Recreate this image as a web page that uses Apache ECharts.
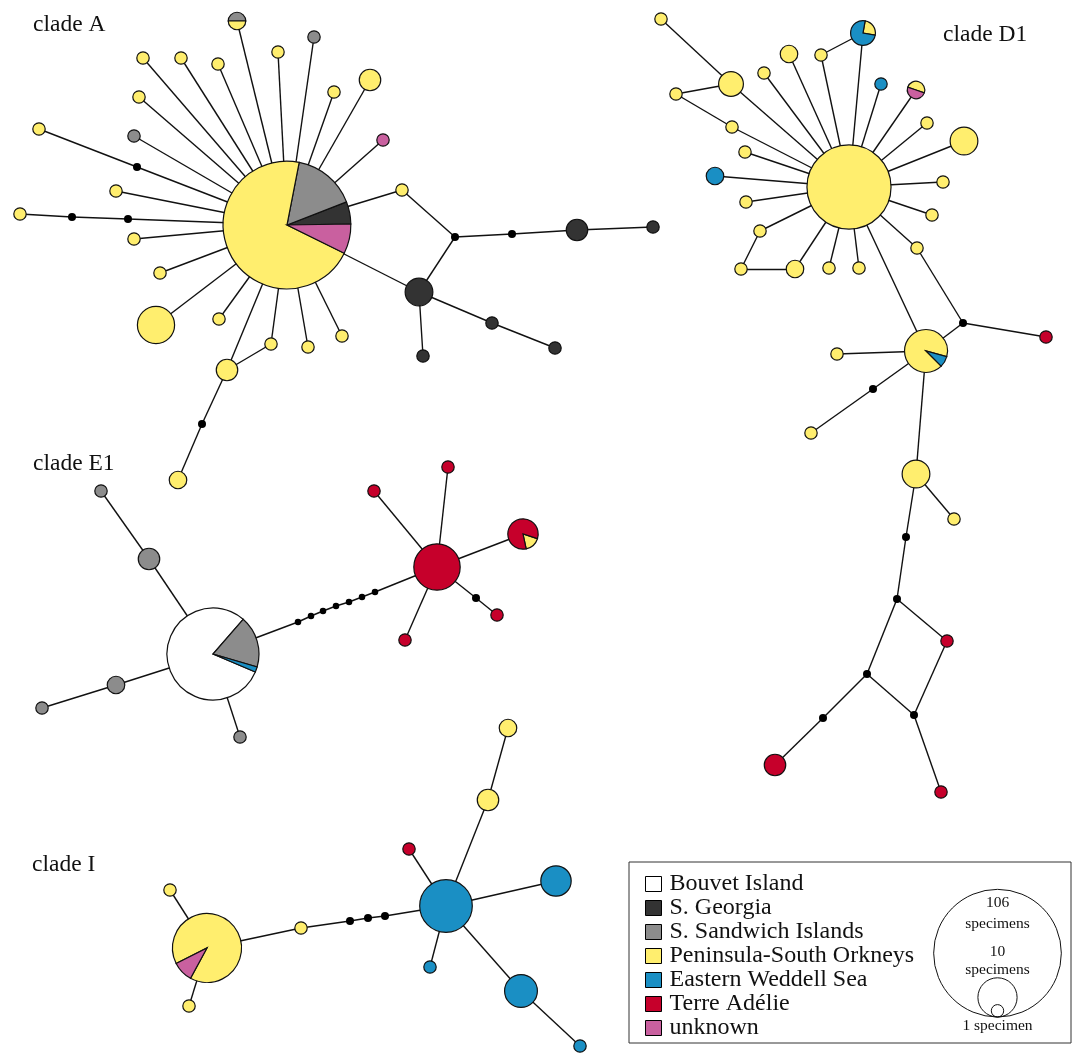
<!DOCTYPE html>
<html>
<head>
<meta charset="utf-8">
<script src="https://cdn.jsdelivr.net/npm/echarts@6.0.0/dist/echarts.min.js"></script>
<style>
html,body{margin:0;padding:0;background:#fff;}
#chart{width:1072px;height:1059px;}
</style>
</head>
<body>
<div id="chart"></div>
<script>
// ---------------- DATA ----------------
const populations = ['Bouvet Island','S. Georgia','S. Sandwich Islands','Peninsula-South Orkneys','Eastern Weddell Sea','Terre Adélie','unknown'];
const popColors = ['#ffffff','#333333','#8c8c8c','#ffee6e','#1a8fc4','#c6002b','#c9609f'];

// haplotype: [id, x, y, [[populationIndex, specimens], ...] (clockwise), start angle (deg)]
const haplotypesA = [
  ['A0',287,225,[[2,17],[1,6],[6,8],[3,75]],79],
  ['A1',237,21,[[2,1],[3,1]],180],
  ['A2',314,37,[[2,1]]],
  ['A3',278,52,[[3,1]]],
  ['A4',370,80,[[3,3]]],
  ['A5',334,92,[[3,1]]],
  ['A6',383,140,[[6,1]]],
  ['A7',218,64,[[3,1]]],
  ['A8',181,58,[[3,1]]],
  ['A9',143,58,[[3,1]]],
  ['A10',139,97,[[3,1]]],
  ['A11',134,136,[[2,1]]],
  ['A12',39,129,[[3,1]]],
  ['A13',116,191,[[3,1]]],
  ['A14',20,214,[[3,1]]],
  ['A15',134,239,[[3,1]]],
  ['A16',160,273,[[3,1]]],
  ['A17',156,325,[[3,9]]],
  ['A18',219,319,[[3,1]]],
  ['A19',271,344,[[3,1]]],
  ['A20',308,347,[[3,1]]],
  ['A21',342,336,[[3,1]]],
  ['A22',227,370,[[3,3]]],
  ['A23',178,480,[[3,2]]],
  ['A24',402,190,[[3,1]]],
  ['A25',577,230,[[1,3]]],
  ['A26',653,227,[[1,1]]],
  ['A27',419,292,[[1,5]]],
  ['A28',492,323,[[1,1]]],
  ['A29',555,348,[[1,1]]],
  ['A30',423,356,[[1,1]]]
];
const haplotypesD1 = [
  ['D0',849,187,[[3,46]]],
  ['D1',661,19,[[3,1]]],
  ['D2',731,84,[[3,4]]],
  ['D3',676,94,[[3,1]]],
  ['D4',732,127,[[3,1]]],
  ['D5',789,54,[[3,2]]],
  ['D6',764,73,[[3,1]]],
  ['D7',821,55,[[3,1]]],
  ['D8',863,33,[[3,1],[4,3]],80],
  ['D9',881,84,[[4,1]]],
  ['D10',916,90,[[3,1],[6,1]],161],
  ['D11',927,123,[[3,1]]],
  ['D12',964,141,[[3,5]]],
  ['D13',943,182,[[3,1]]],
  ['D14',932,215,[[3,1]]],
  ['D15',917,248,[[3,1]]],
  ['D16',745,152,[[3,1]]],
  ['D17',715,176,[[4,2]]],
  ['D18',746,202,[[3,1]]],
  ['D19',760,231,[[3,1]]],
  ['D20',741,269,[[3,1]]],
  ['D21',795,269,[[3,2]]],
  ['D22',829,268,[[3,1]]],
  ['D23',859,268,[[3,1]]],
  ['D24',926,351,[[4,1],[3,11]],-15],
  ['D25',1046,337,[[5,1]]],
  ['D26',837,354,[[3,1]]],
  ['D27',811,433,[[3,1]]],
  ['D28',916,474,[[3,5]]],
  ['D29',954,519,[[3,1]]],
  ['D30',947,641,[[5,1]]],
  ['D31',775,765,[[5,3]]],
  ['D32',941,792,[[5,1]]]
];
const haplotypesE1 = [
  ['E0',213,654,[[2,10],[4,1],[0,44]],49],
  ['E1',101,491,[[2,1]]],
  ['E2',149,559,[[2,3]]],
  ['E3',116,685,[[2,2]]],
  ['E4',42,708,[[2,1]]],
  ['E5',240,737,[[2,1]]],
  ['E6',437,567,[[5,14]]],
  ['E7',374,491,[[5,1]]],
  ['E8',448,467,[[5,1]]],
  ['E9',523,534,[[3,1],[5,5]],-18],
  ['E10',497,615,[[5,1]]],
  ['E11',405,640,[[5,1]]]
];
const haplotypesI = [
  ['I0',207,948,[[6,3],[3,28]],241.5],
  ['I1',170,890,[[3,1]]],
  ['I2',189,1006,[[3,1]]],
  ['I3',301,928,[[3,1]]],
  ['I4',446,906,[[4,18]]],
  ['I5',409,849,[[5,1]]],
  ['I6',488,800,[[3,3]]],
  ['I7',508,728,[[3,2]]],
  ['I8',556,881,[[4,6]]],
  ['I9',430,967,[[4,1]]],
  ['I10',521,991,[[4,7]]],
  ['I11',580,1046,[[4,1]]]
];
// median vectors (missing haplotypes): [id, x, y]
const medianVectors = [
  ['mA1',137,167],['mA2',72,217],['mA3',128,219],['mA4',202,424],['mA5',455,237],['mA6',512,234],
  ['mD1',963,323],['mD2',873,389],['mD3',906,537],['mD4',897,599],['mD5',867,674],['mD6',914,715],['mD7',823,718],
  ['mE1',298,622],['mE2',311,616],['mE3',323,611],['mE4',336,606],['mE5',349,602],['mE6',362,597],['mE7',375,592],['mE8',476,598],
  ['mI1',350,921],['mI2',368,918],['mI3',385,916]
];
const linksA = [
  ['A0','A1'],['A0','A2'],['A0','A3'],['A0','A4'],['A0','A5'],['A0','A6'],['A0','A7'],['A0','A8'],['A0','A9'],['A0','A10'],['A0','A11'],
  ['A0','mA1'],['mA1','A12'],['A0','A13'],['A0','mA3'],['mA3','mA2'],['mA2','A14'],['A0','A15'],['A0','A16'],['A0','A17'],
  ['A0','A18'],['A0','A19'],['A0','A20'],['A0','A21'],['A0','A22'],['A22','A19'],['A22','mA4'],['mA4','A23'],
  ['A0','A24'],['A24','mA5'],['mA5','mA6'],['mA6','A25'],['A25','A26'],['mA5','A27'],['A0','A27'],['A27','A28'],['A28','A29'],['A27','A30']
];
const linksD1 = [
  ['D1','D2'],['D2','D0'],['D2','D3'],['D3','D4'],['D4','D0'],['D5','D0'],['D6','D0'],['D7','D0'],['D7','D8'],['D8','D0'],
  ['D9','D0'],['D10','D0'],['D11','D0'],['D12','D0'],['D13','D0'],['D14','D0'],['D15','D0'],['D16','D0'],['D17','D0'],['D18','D0'],
  ['D19','D0'],['D19','D20'],['D20','D21'],['D21','D0'],['D22','D0'],['D23','D0'],['D0','D24'],['D15','mD1'],['mD1','D24'],['mD1','D25'],
  ['D24','D26'],['D24','mD2'],['mD2','D27'],['D24','D28'],['D28','D29'],['D28','mD3'],['mD3','mD4'],['mD4','D30'],['mD4','mD5'],
  ['mD5','mD6'],['D30','mD6'],['mD6','D32'],['mD5','mD7'],['mD7','D31']
];
const linksE1 = [
  ['E1','E2'],['E2','E0'],['E0','E3'],['E3','E4'],['E0','E5'],['E0','mE1'],['mE1','mE2'],['mE2','mE3'],['mE3','mE4'],['mE4','mE5'],
  ['mE5','mE6'],['mE6','mE7'],['mE7','E6'],['E6','E7'],['E6','E8'],['E6','E9'],['E6','mE8'],['mE8','E10'],['E6','E11']
];
const linksI = [
  ['I0','I1'],['I0','I2'],['I0','I3'],['I3','mI1'],['mI1','mI2'],['mI2','mI3'],['mI3','I4'],['I4','I5'],['I4','I6'],['I6','I7'],
  ['I4','I8'],['I4','I9'],['I4','I10'],['I10','I11']
];
const cladeNames = ['clade A','clade D1','clade E1','clade I'];
const sizeLegendCounts = [106,10,1];
const sizeLegendTexts = [['106','specimens'],['10','specimens'],['1 specimen']];

// ---------------- BUILD ----------------
const FONT = 'Liberation Serif, Times New Roman, serif';
const K = 6.2; // radius per sqrt(specimen), in axis units
const haplotypes = haplotypesA.concat(haplotypesD1, haplotypesE1, haplotypesI);
const allLinks = linksA.concat(linksD1, linksE1, linksI);

const sectorData = populations.map(() => []);
haplotypes.forEach(h => {
  const id = h[0], x = h[1], y = h[2], comp = h[3], start = (h[4] === undefined ? 90 : h[4]);
  const total = comp.reduce((s, c) => s + c[1], 0);
  let a = start;
  comp.forEach(c => {
    const span = c[1] / total * 360;
    sectorData[c[0]].push({ name: id, value: [x, y, total, a, a - span, comp.length === 1 ? 1 : 0] });
    a -= span;
  });
});

function renderSector(params, api) {
  const c = api.coord([api.value(0), api.value(1)]);
  const r = api.size([K * Math.sqrt(api.value(2)), 0])[0];
  const style = { fill: api.visual('color'), stroke: '#111', lineWidth: 1.2 };
  if (api.value(5) === 1) {
    return { type: 'circle', shape: { cx: c[0], cy: c[1], r: r }, style: style };
  }
  const a0 = -api.value(3) * Math.PI / 180;
  const a1 = -api.value(4) * Math.PI / 180;
  return { type: 'sector', shape: { cx: c[0], cy: c[1], r: r, r0: 0, startAngle: a0, endAngle: a1, clockwise: true }, style: style };
}

const graphNodes = haplotypes.map(h => ({ name: h[0], value: [h[1], h[2]], symbolSize: 0 }))
  .concat(medianVectors.map(m => ({ name: m[0], value: [m[1], m[2]], symbolSize: /^mE[1-7]$/.test(m[0]) ? 6.5 : 8 })));

const series = [{
  type: 'graph',
  coordinateSystem: 'cartesian2d',
  xAxisIndex: 0, yAxisIndex: 0,
  z: 1,
  silent: true,
  symbol: 'circle',
  itemStyle: { color: '#000' },
  lineStyle: { color: '#111', width: 1.4, opacity: 1, curveness: 0 },
  emphasis: { disabled: true },
  label: { show: false },
  data: graphNodes,
  links: allLinks.map(l => ({ source: l[0], target: l[1] }))
}].concat(populations.map((p, i) => ({
  type: 'custom',
  name: p,
  coordinateSystem: 'cartesian2d',
  z: 2,
  silent: true,
  clip: false,
  itemStyle: { color: popColors[i] },
  renderItem: renderSector,
  encode: { x: 0, y: 1 },
  data: sectorData[i]
})));

// size legend graphics
const sizeCx = 997.5, sizeBottom = 1017;
const sizeGraphics = sizeLegendCounts.map(n => ({
  type: 'circle', silent: true,
  shape: { cx: sizeCx, cy: sizeBottom - K * Math.sqrt(n), r: K * Math.sqrt(n) },
  style: { fill: 'none', stroke: '#111', lineWidth: 1 }
}));
const sizeTextY = [[903, 924], [952, 970], [1026]];
sizeLegendTexts.forEach((lines, i) => {
  lines.forEach((t, j) => {
    sizeGraphics.push({
      type: 'text', silent: true,
      style: { text: t, x: sizeCx, y: sizeTextY[i][j], align: 'center', verticalAlign: 'middle', font: '15.5px ' + FONT, fill: '#111' }
    });
  });
});
const cladePos = [[33, 24.6], [943, 34.6], [33, 463.6], [32, 864.6]];
const cladeGraphics = cladeNames.map((t, i) => ({
  type: 'text', silent: true,
  style: { text: t, x: cladePos[i][0], y: cladePos[i][1], align: 'left', verticalAlign: 'middle', font: '23.5px ' + FONT, fill: '#111' }
}));

const option = {
  animation: false,
  backgroundColor: '#fff',
  grid: { left: 0, right: 0, top: 0, bottom: 0 },
  xAxis: { type: 'value', min: 0, max: 1072, show: false },
  yAxis: { type: 'value', min: 0, max: 1059, inverse: true, show: false },
  legend: {
    orient: 'vertical', left: 645, top: 872, padding: 0,
    itemWidth: 16, itemHeight: 15, itemGap: 0, icon: 'rect',
    selectedMode: false,
    data: populations,
    itemStyle: { borderColor: '#000', borderWidth: 1 },
    textStyle: { fontFamily: FONT, fontSize: 24, lineHeight: 23.67, color: '#111', padding: [0, 0, 0, 3] }
  },
  graphic: [
    { type: 'rect', silent: true, shape: { x: 629, y: 862, width: 442, height: 181 }, style: { fill: 'none', stroke: '#333', lineWidth: 1 } }
  ].concat(sizeGraphics, cladeGraphics),
  series: series
};

const chart = echarts.init(document.getElementById('chart'));
chart.setOption(option);
</script>
</body>
</html>
